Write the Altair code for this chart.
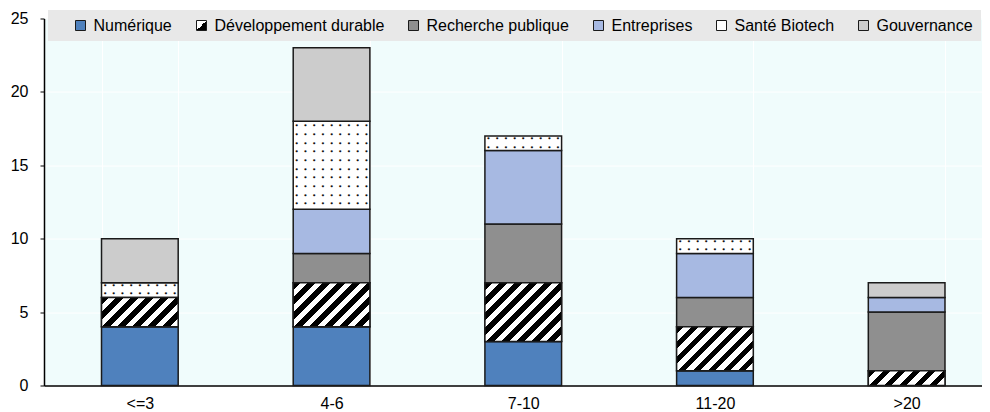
import altair as alt
import pandas as pd

# ---- data ----
categories = ["<=3", "4-6", "7-10", "11-20", ">20"]
series = ["Numérique", "Développement durable", "Recherche publique",
          "Entreprises", "Santé Biotech", "Gouvernance"]
numerique = [4, 4, 3, 1, 0]
developpement_durable = [2, 3, 4, 3, 1]
recherche_publique = [0, 2, 4, 2, 4]
entreprises = [0, 3, 5, 3, 1]
sante_biotech = [1, 6, 1, 1, 0]
gouvernance = [3, 5, 0, 0, 1]
y_ticks = [0, 5, 10, 15, 20, 25]

all_values = [numerique, developpement_durable, recherche_publique,
              entreprises, sante_biotech, gouvernance]
records = []
for i, c in enumerate(categories):
    for j, s in enumerate(series):
        records.append({"cat": c, "series": s, "order": j, "value": all_values[j][i]})
df = pd.DataFrame(records)

# ---- style constants ----
FONT = "Liberation Sans"
PLOT_H = 367
PX = PLOT_H / 25.0          # px per unit
BAR_W = 76.7
PERIOD = 15.0               # horizontal period of hatch stripes (px)
N = 12
stops = []
for k in range(N):
    a, b, c = k / N, (k + 0.5) / N, (k + 1) / N
    stops += [(a, "#000"), (b, "#000"), (b, "#fff"), (c, "#fff")]
stops_js = ",".join("{offset:%.5f,color:'%s'}" % (o, col) for o, col in stops)
L = N * PERIOD
W2 = BAR_W * BAR_W
grad_expr = ("{gradient:'linear',x1:0,y1:0,"
             f"x2:{L}*{BAR_W}/({W2}+datum.h*datum.h),"
             f"y2:{L}*datum.h/({W2}+datum.h*datum.h),"
             f"stops:[{stops_js}]}}")
legend_grad = ("{gradient:'linear',x1:0,y1:0,x2:1,y2:1,stops:["
               "{offset:0,color:'#fff'},{offset:0.5,color:'#fff'},"
               "{offset:0.5,color:'#000'},{offset:1,color:'#000'}]}")

# dotted texture for "Santé Biotech" (rows of bullets in a monospace font)
DOT_STEP = 8.7
DOT_FS = DOT_STEP / (2 * 0.602)
dot_row = " ".join(["•"] * 9)
ROW_LEN = len(dot_row) + 1
dots_all = "|".join([dot_row] * 12)
rows_expr = f"max(1, round(datum.h/{DOT_STEP}))"
dots_expr = f"slice('{dots_all}', 0, {rows_expr}*{ROW_LEN} - 1)"
ytop_expr = f"datum.mid + ({rows_expr}-1)*{DOT_STEP}/2/{PX}"

colors = ["#4F81BD", alt.ExprRef(expr=legend_grad), "#8F8F8F",
          "#A7B9E2", "#FFFFFF", "#CCCCCC"]

base = (alt.Chart(df)
        .transform_filter("datum.value > 0")
        .transform_stack(stack="value", groupby=["cat"], as_=["y0", "y1"],
                         sort=[alt.SortField("order", order="ascending")])
        .transform_calculate(h=f"datum.value*{PX}", mid="(datum.y0+datum.y1)/2"))

x_enc = alt.X("cat:N", sort=categories, title=None,
              scale=alt.Scale(range=[0, 958.5], paddingInner=0.6, paddingOuter=0.3),
              axis=alt.Axis(labelAngle=0, labelFont=FONT, labelFontSize=16,
                            labelColor="#000", labelPadding=10, ticks=False,
                            domainColor="#000", domainWidth=1.5,
                            grid=True, gridColor="#FFFFFF", gridWidth=1,
                            tickBand="extent"))
y_scale = alt.Scale(domain=[0, 25], nice=False)
y_axis = alt.Axis(values=y_ticks, labelFont=FONT, labelFontSize=16,
                  labelColor="#000", labelPadding=12, tickSize=4,
                  tickColor="#000", tickWidth=1, domainColor="#000",
                  domainWidth=1.5, grid=True, gridColor="#FFFFFF", gridWidth=1)

bars = base.mark_bar(stroke="#1a1a1a", strokeWidth=1.5).encode(
    x=x_enc,
    y=alt.Y("y1:Q", scale=y_scale, axis=y_axis, title=None),
    y2="y0:Q",
    fill=alt.Fill("series:N", sort=series,
                  scale=alt.Scale(domain=series, range=colors),
                  legend=alt.Legend(title=" ", titleOrient="left", titleFontSize=1,
                                    titlePadding=17, orient="none",
                                    legendX=4, legendY=-8.5,
                                    direction="horizontal", columns=6,
                                    fillColor="#E8E8E8", padding=7.5,
                                    labelFont=FONT, labelFontSize=16,
                                    labelColor="#000", labelLimit=400,
                                    labelOffset=5, columnPadding=21,
                                    symbolType="square", symbolSize=100,
                                    symbolStrokeColor="#000",
                                    symbolStrokeWidth=1, symbolOpacity=1)),
)

hatch = (base.transform_filter("datum.series == 'Développement durable'")
         .transform_calculate(grad=grad_expr)
         .mark_bar(stroke="#1a1a1a", strokeWidth=1.5)
         .encode(x=x_enc, y=alt.Y("y1:Q", scale=y_scale, axis=y_axis, title=None),
                 y2="y0:Q", fill=alt.Fill("grad:N", scale=None)))

dots = (base.transform_filter("datum.series == 'Santé Biotech'")
        .transform_calculate(dots=dots_expr, ytop=ytop_expr)
        .mark_text(font="DejaVu Sans Mono", fontSize=DOT_FS,
                   lineBreak="|", lineHeight=DOT_STEP, baseline="middle",
                   align="center", color="#111")
        .encode(x=x_enc, y=alt.Y("ytop:Q", scale=y_scale, axis=y_axis, title=None),
                text="dots:N"))

chart = (alt.layer(bars, hatch, dots)
         .properties(width=938, height=PLOT_H,
                     padding={"left": 36, "top": 10.5, "right": 0, "bottom": 26.5},
                     autosize=alt.AutoSizeParams(type="none"))
         .configure_view(fill="#F0FCFC", stroke=None))

chart.save("out.html", embed_options={"renderer": "svg", "actions": False})
